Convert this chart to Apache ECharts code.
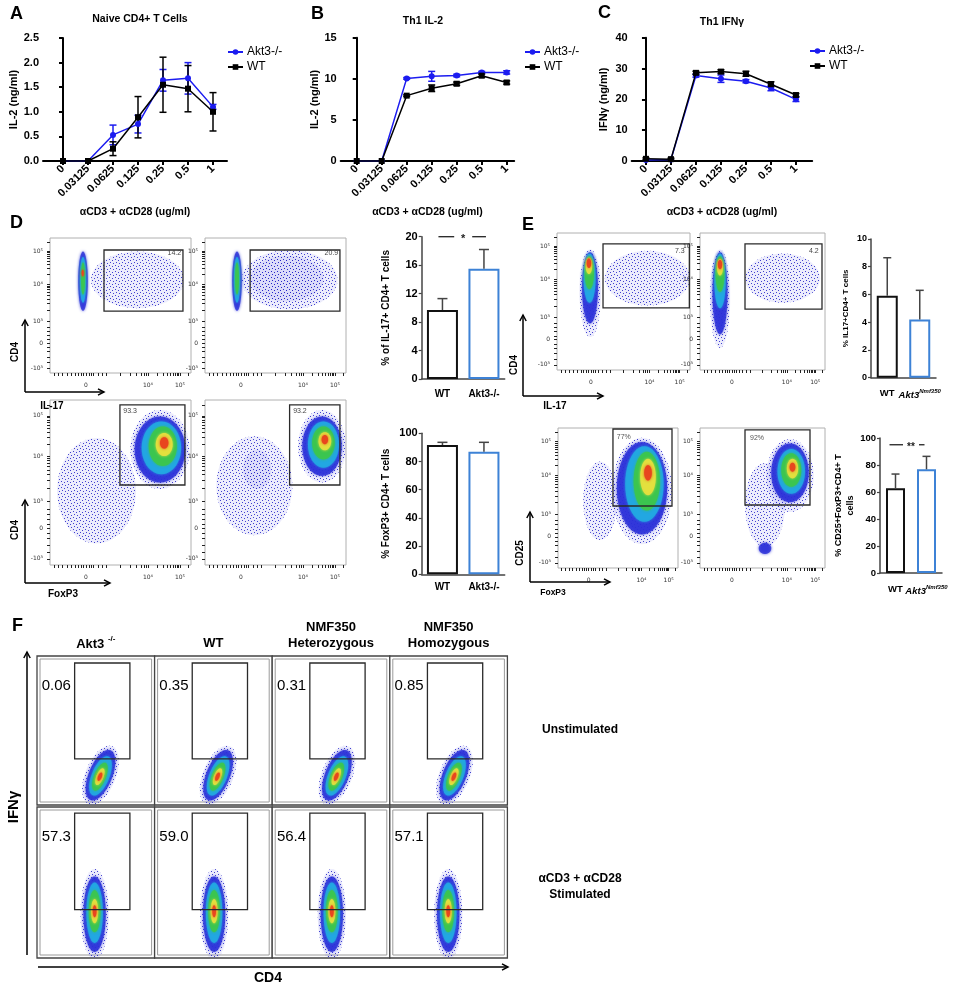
<!DOCTYPE html>
<html><head><meta charset="utf-8">
<script src="https://cdn.jsdelivr.net/npm/echarts@6/dist/echarts.min.js"></script>
<style>html,body{margin:0;padding:0;background:#fff}#c{width:961px;height:986px}</style>
</head><body><div id="c"></div><script>
const FONT = "'Liberation Sans', Arial, Helvetica, sans-serif";
const BLUE = '#1c1cf0';
const BAR_BORDERS = ['#111111', '#3d82d6'];

// ---------- Panels A-C : cytokine dose response ----------
const doseLabels = ['0', '0.03125', '0.0625', '0.125', '0.25', '0.5', '1'];
const doseIdx = [0, 1, 2, 3, 4, 5, 6];
const naiveAkt3 = [0, 0, 0.53, 0.75, 1.64, 1.68, 1.10];
const naiveAkt3Err = [0, 0, 0.20, 0.18, 0.22, 0.32, 0.05];
const naiveWT = [0, 0, 0.25, 0.89, 1.55, 1.47, 1.00];
const naiveWTErr = [0, 0, 0.14, 0.42, 0.56, 0.47, 0.39];
const th1Il2Akt3 = [0, 0, 10.05, 10.3, 10.4, 10.78, 10.78];
const th1Il2Akt3Err = [0, 0, 0.1, 0.6, 0.15, 0.12, 0.2];
const th1Il2WT = [0, 0, 7.95, 8.85, 9.4, 10.38, 9.55];
const th1Il2WTErr = [0, 0, 0.1, 0.4, 0.2, 0.2, 0.2];
const th1IfngAkt3 = [0.3, 0.5, 27.7, 26.7, 25.9, 23.7, 20.0];
const th1IfngAkt3Err = [0, 0, 0.5, 1.2, 0.5, 0.9, 0.7];
const th1IfngWT = [0.7, 0.6, 28.6, 29.0, 28.3, 24.9, 21.4];
const th1IfngWTErr = [0.3, 0.3, 0.5, 0.6, 0.8, 0.8, 0.5];

// ---------- bar summaries ----------
const dCats = ['WT', 'Akt3-/-'];
const il17Pct = [9.7, 15.5];
const il17Err = [1.6, 2.7];
const foxp3Pct = [91.7, 87.0];
const foxp3Err = [1.9, 6.6];
const eCats = ['WT', 'Akt3Nmf350'];
const eIl17Pct = [5.9, 4.2];
const eIl17Err = [2.75, 2.1];
const eTregPct = [62.7, 76.8];
const eTregErr = [10.6, 9.6];

// ---------- flow plots (display units 0-100) ----------
const flowYLabelPos = [3.7, 22.2, 38.5, 65.9, 90.4];
const flowYLabels = ['-10³', '0', '10³', '10⁴', '10⁵'];
const flowYTicks = [3.7, 8, 12, 16, 19, 22.2, 25, 28, 31, 34, 38.5, 46.7, 51.6, 55, 57.7, 59.9, 61.7, 63.3, 64.6, 65.9, 73.3, 77.6, 80.6, 83, 84.9, 86.6, 88, 89.3, 90.4, 97];
const flowXLabelPos = [25.5, 69.5, 92.2];
const flowXLabels = ['0', '10⁴', '10⁵'];
const flowXTicks = [3, 6, 9, 12, 15, 18, 20, 22, 23.5, 25.5, 27.5, 29, 31, 34, 37, 40, 50, 57, 61.5, 64.6, 66.5, 68.1, 69.5, 76.3, 80.3, 83.2, 85.4, 87.2, 88.7, 90, 91.1, 92.2, 98];
// blob: [cx, cy, rx, ry, densityLevel, tiltDeg]
const dTopWTCloud = [[62, 69, 33, 21, 0, 0], [23.4, 68, 3.4, 22, 1, 0], [23.4, 69, 2.2, 17, 2, 0], [23.4, 70, 1.4, 12, 3, 0], [23.2, 74, 0.8, 2.5, 5, 0]];
const dTopWTGate = [38.3, 45.9, 94.3, 91.1, 93, 88.5, '14.2', 'right'];
const dTopAkt3Cloud = [[60, 69, 34, 22, 0, 0], [58, 70, 26, 17, 0, 0], [22.7, 68, 3.4, 22, 1, 0], [22.7, 69, 2.2, 17, 2, 0], [22.7, 70, 1.4, 12, 3, 0]];
const dTopAkt3Gate = [32, 45.9, 95.7, 91.1, 94.5, 88.5, '20.9', 'right'];
const dFoxWTCloud = [[33, 45, 28, 32, 0, 0], [78, 70, 21, 24, 0, 0], [78, 70, 18, 20, 1, 0], [79, 71, 14, 16, 2, 0], [80, 72, 10, 12, 3, 0], [81, 73, 6, 7, 4, 0], [81, 74, 3, 3.5, 5, 0]];
const dFoxWTGate = [49.6, 48.5, 95.7, 97, 52, 93.5, '93.3', 'left'];
const dFoxAkt3Cloud = [[35, 48, 27, 30, 0, 0], [37, 58, 10, 12, 0, 0], [83, 72, 17, 22, 0, 0], [83, 72, 14, 18, 1, 0], [84, 73, 11, 14, 2, 0], [84, 74, 8, 10, 3, 0], [85, 75, 4.5, 5.5, 4, 0], [85, 76, 2.3, 2.8, 5, 0]];
const dFoxAkt3Gate = [60, 48.5, 95.7, 97, 62.5, 93.5, '93.2', 'left'];
const eIl17WTCloud = [[68, 67, 32, 20, 0, 0], [25, 56, 8, 32, 0, 0], [24.8, 60, 6, 26, 1, 0], [24.5, 67, 4.5, 18, 2, 0], [24.3, 71, 3.5, 12, 3, 0], [24, 76, 2.4, 6, 4, 0], [24, 78, 1.7, 3.5, 5, 0]];
const eIl17WTGate = [34.6, 45.3, 99.5, 92, 96, 86.5, '7.3', 'right'];
const eIl17MutCloud = [[66, 67, 30, 18, 0, 0], [16, 52, 8, 36, 0, 0], [16, 56, 6, 30, 1, 0], [16, 65, 4.5, 20, 2, 0], [16, 70, 3.5, 13, 3, 0], [16, 75, 2.4, 6, 4, 0], [16, 77, 1.7, 3.5, 5, 0]];
const eIl17MutGate = [36, 44.5, 97.6, 92, 95, 86.5, '4.2', 'right'];
const eTregWTCloud = [[35, 48, 14, 28, 0, 0], [70, 55, 25, 38, 0, 0], [70, 57, 21, 33, 1, 0], [72, 60, 16, 27, 2, 0], [74, 62, 11, 21, 3, 0], [75, 65, 6.5, 13, 4, 0], [75, 68, 3.2, 5.5, 5, 0]];
const eTregWTGate = [45.8, 44.3, 95, 99.3, 49, 93.5, '77%', 'left'];
const eTregMutCloud = [[52, 45, 16, 30, 0, 0], [52, 14, 5, 4, 1, 0], [72, 66, 19, 26, 0, 0], [72, 68, 15, 21, 1, 0], [73, 69, 11, 16, 2, 0], [73, 70, 8, 12, 3, 0], [74, 71, 4.5, 7, 4, 0], [74, 72, 2.3, 3.2, 5, 0]];
const eTregMutGate = [36, 45, 88, 98.6, 40, 93, '92%', 'left'];

// ---------- Panel F ----------
const fColumns = ['Akt3', 'WT', 'NMF350\nHeterozygous', 'NMF350\nHomozygous'];
const fUnstimPct = ['0.06', '0.35', '0.31', '0.85'];
const fStimPct = ['57.3', '59.0', '56.4', '57.1'];
const fUnstimCloudX = [54, 54, 55, 55];
const fStimCloudX = [49, 50.6, 50.7, 49.7];
const fUnstimCloudY = 20;
const fStimCloudY = 29;
// relative blob shape [dx, dy, rx, ry, level]
const fUnstimShape = [[0, 0, 13, 21, 0], [0, 0, 10, 18, 1], [0, -0.5, 7.5, 14, 2], [-0.5, -1, 5, 10, 3], [-0.5, -1, 3, 6, 4], [-0.5, -1, 1.6, 3, 5]];
const fStimShape = [[0, 0, 12, 30, 0], [0, 0, 9.5, 25, 1], [0, 1, 7, 20, 2], [0, 2, 5, 14, 3], [0, 2, 3, 8, 4], [0, 2, 1.6, 4, 5]];
const fUnstimTilt = 22;
const fUnstimGate = [32, 31, 79, 95.3];
const fStimGate = [32, 32, 79, 96];
const fLabelAt = [4, 80];

// ------------------------------------------------------------
const grids = [], xAxes = [], yAxes = [], series = [], graphics = [], legends = [];
const LEVEL_COLORS = [null, '#2b2fd8', '#22a9e2', '#3cc64e', '#e4df3e', '#e8461e'];
const LEVEL_OPAC = [1, 0.8, 0.9, 0.92, 0.95, 1];

function dotPattern() {
  const cv = document.createElement('canvas'); cv.width = 6; cv.height = 6;
  const g = cv.getContext('2d'); g.fillStyle = 'rgba(35,35,200,0.85)';
  [[1, 1], [4, 2], [2, 4], [5, 5]].forEach(p => g.fillRect(p[0], p[1], 1, 1));
  return cv;
}
const PATTERN = dotPattern();

function ellipsePts(cx, cy, rx, ry, rot) {
  const pts = [], n = 44;
  for (let k = 0; k < n; k++) {
    const t = k / n * 2 * Math.PI, x = rx * Math.cos(t), y = ry * Math.sin(t);
    pts.push([cx + x * Math.cos(rot) - y * Math.sin(rot), cy + x * Math.sin(rot) + y * Math.cos(rot)]);
  }
  return pts;
}

function errBars(ai, xs, means, errs, color, cap, both) {
  return {
    type: 'custom', xAxisIndex: ai, yAxisIndex: ai, silent: true, z: 3,
    data: means.map((m, i) => [xs[i], both ? m - errs[i] : m, m + errs[i]]),
    renderItem(p, api) {
      if (!errs[p.dataIndex]) return null;
      const x = api.value(0);
      const lo = api.coord([x, api.value(1)]), hi = api.coord([x, api.value(2)]);
      const st = { stroke: color, lineWidth: 1.5 };
      const ch = [
        { type: 'line', shape: { x1: lo[0], y1: lo[1], x2: hi[0], y2: hi[1] }, style: st },
        { type: 'line', shape: { x1: hi[0] - cap, y1: hi[1], x2: hi[0] + cap, y2: hi[1] }, style: st }];
      if (both) ch.push({ type: 'line', shape: { x1: lo[0] - cap, y1: lo[1], x2: lo[0] + cap, y2: lo[1] }, style: st });
      return { type: 'group', children: ch };
    }
  };
}

function lineChart(c) {
  const gi = grids.length;
  grids.push({ left: c.left, top: c.top, width: c.width, height: c.height });
  xAxes.push({
    gridIndex: gi, type: 'value', min: c.xmin, max: c.xmax, splitLine: { show: false },
    axisLine: { show: true, onZero: false, lineStyle: { color: '#000', width: 2 } },
    axisTick: { show: true, customValues: doseIdx, length: 4, lineStyle: { color: '#000', width: 2 } },
    axisLabel: { customValues: doseIdx, formatter: v => doseLabels[Math.round(v)], rotate: 45, fontSize: 11, fontWeight: 'bold', color: '#000', fontFamily: FONT, margin: 6 },
    name: 'αCD3 + αCD28 (ug/ml)', nameLocation: 'middle', nameGap: 46,
    nameTextStyle: { fontSize: 10.5, fontWeight: 'bold', color: '#000', fontFamily: FONT }
  });
  yAxes.push({
    gridIndex: gi, type: 'value', min: 0, max: c.ymax, interval: c.yint, splitLine: { show: false },
    axisLine: { show: true, lineStyle: { color: '#000', width: 2 } },
    axisTick: { show: true, length: 4, lineStyle: { color: '#000', width: 2 } },
    axisLabel: { formatter: c.fmt, fontSize: 11, fontWeight: 'bold', color: '#000', fontFamily: FONT, margin: 4 },
    name: c.yname, nameLocation: 'middle', nameGap: c.nameGap,
    nameTextStyle: { fontSize: 11, fontWeight: 'bold', color: '#000', fontFamily: FONT }
  });
  const ai = xAxes.length - 1;
  series.push(errBars(ai, doseIdx, c.akt, c.aktErr, BLUE, 3.5, true));
  series.push(errBars(ai, doseIdx, c.wt, c.wtErr, '#000', 3.5, true));
  series.push({ type: 'line', name: 'Akt3-/-', xAxisIndex: ai, yAxisIndex: ai, data: c.akt.map((v, i) => [doseIdx[i], v]), symbol: 'circle', symbolSize: 6, color: BLUE, lineStyle: { width: 1.5, color: BLUE }, itemStyle: { color: BLUE }, z: 4, silent: true });
  series.push({ type: 'line', name: 'WT', xAxisIndex: ai, yAxisIndex: ai, data: c.wt.map((v, i) => [doseIdx[i], v]), symbol: 'rect', symbolSize: 6, color: '#000', lineStyle: { width: 1.5, color: '#000' }, itemStyle: { color: '#000' }, z: 5, silent: true });
  legends.push({ left: c.legLeft, top: c.legTop, orient: 'vertical', itemGap: 3, itemWidth: 15, itemHeight: 7, selectedMode: false, data: ['Akt3-/-', 'WT'], textStyle: { fontSize: 12, color: '#000', fontFamily: FONT, padding: [0, 0, 0, -1] } });
  text(c.titleX, c.titleY, c.title, 10.5, 'bold');
}

function sigSeries(ai, yv, txt, size, gap, lpad, rpad) {
  return {
    type: 'custom', xAxisIndex: ai, yAxisIndex: ai, silent: true, z: 5, data: [[0, 1, yv]],
    renderItem(p, api) {
      const a = api.coord([0, yv]), b = api.coord([1, yv]); const m = (a[0] + b[0]) / 2;
      const st = { stroke: '#222', lineWidth: 1.3 };
      return { type: 'group', children: [
        { type: 'line', shape: { x1: a[0] - lpad, y1: a[1], x2: m - gap, y2: a[1] }, style: st },
        { type: 'line', shape: { x1: m + gap, y1: a[1], x2: b[0] + rpad, y2: a[1] }, style: st },
        { type: 'text', x: m, y: a[1] + 2, style: { text: txt, fontSize: size, fontWeight: 'bold', fill: '#222', align: 'center', verticalAlign: 'middle', fontFamily: FONT } }] };
    }
  };
}

function barChart(c) {
  const gi = grids.length;
  grids.push({ left: c.left, top: c.top, width: c.width, height: c.height });
  xAxes.push({
    gridIndex: gi, type: 'category', data: c.cats,
    axisLine: { show: true, lineStyle: { color: '#444', width: 1.5 } }, axisTick: { show: false },
    axisLabel: { interval: 0, fontSize: c.catSize, fontWeight: 'bold', color: '#000', fontFamily: FONT, margin: c.catMargin, formatter: c.catFmt, rich: c.catRich }
  });
  yAxes.push({
    gridIndex: gi, type: 'value', min: 0, max: c.ymax, interval: c.yint, splitLine: { show: false },
    axisLine: { show: true, lineStyle: { color: '#444', width: 1.5 } },
    axisTick: { show: true, length: 3, lineStyle: { color: '#444', width: 1.2 } },
    axisLabel: { fontSize: c.tickSize, fontWeight: 'bold', color: '#000', fontFamily: FONT, margin: 4 },
    name: c.yname, nameLocation: 'middle', nameGap: c.nameGap,
    nameTextStyle: { fontSize: c.nameSize, fontWeight: 'bold', color: '#000', fontFamily: FONT, lineHeight: c.nameSize + 3 }
  });
  const ai = xAxes.length - 1;
  series.push({ type: 'bar', xAxisIndex: ai, yAxisIndex: ai, barWidth: c.barWidth, silent: true, data: c.vals.map((v, i) => ({ value: v, itemStyle: { color: '#fff', borderColor: BAR_BORDERS[i], borderWidth: 2 } })) });
  series.push(errBars(ai, c.vals.map((v, i) => i), c.vals, c.errs, '#444', c.cap, false));
  if (c.sig) series.push(sigSeries(ai, c.sig, c.sigText, c.sigSize, c.sigGap, c.sigL, c.sigR));
}

function nearest(pos, labels) {
  return v => { let k = 0, b = 1e9; pos.forEach((p, i) => { const d = Math.abs(p - v); if (d < b) { b = d; k = i; } }); return b < 0.5 ? labels[k] : ''; };
}

function cloudSeries(ai, blobs) {
  return {
    type: 'custom', xAxisIndex: ai, yAxisIndex: ai, silent: true, z: 2, clip: true, data: blobs.map(b => [b[0], b[1]]),
    renderItem(p, api) {
      const b = blobs[p.dataIndex];
      const c = api.coord([b[0], b[1]]);
      const s = api.size([b[2], b[3]]);
      const pts = ellipsePts(c[0], c[1], s[0], s[1], (b[5] || 0) * Math.PI / 180);
      if (b[4] === 0) {
        return { type: 'group', children: [
          { type: 'polygon', shape: { points: pts }, style: { fill: 'rgba(70,70,225,0.10)' } },
          { type: 'polygon', shape: { points: pts }, style: { fill: { image: PATTERN, repeat: 'repeat' } } }] };
      }
      return { type: 'polygon', shape: { points: pts }, style: { fill: LEVEL_COLORS[b[4]], opacity: LEVEL_OPAC[b[4]], shadowBlur: 3, shadowColor: LEVEL_COLORS[b[4]] } };
    }
  };
}

function gateSeries(ai, gate, fontSize, color) {
  return {
    type: 'custom', xAxisIndex: ai, yAxisIndex: ai, silent: true, z: 6, data: [[gate[0], gate[1]]],
    renderItem(p, api) {
      const a = api.coord([gate[0], gate[1]]), b = api.coord([gate[2], gate[3]]), l = api.coord([gate[4], gate[5]]);
      return { type: 'group', children: [
        { type: 'rect', shape: { x: Math.min(a[0], b[0]), y: Math.min(a[1], b[1]), width: Math.abs(b[0] - a[0]), height: Math.abs(b[1] - a[1]) }, style: { fill: 'none', stroke: '#2a2a2a', lineWidth: 1.3 } },
        { type: 'text', x: l[0], y: l[1], style: { text: gate[6], fontSize: fontSize, fill: color, align: gate[7], verticalAlign: 'middle', fontFamily: FONT } }] };
    }
  };
}

function frameSeries(ai) {
  return {
    type: 'custom', xAxisIndex: ai, yAxisIndex: ai, silent: true, z: 1, data: [[0, 0]],
    renderItem(p, api) {
      const a = api.coord([0, 100]), b = api.coord([100, 0]);
      return { type: 'rect', shape: { x: a[0] + 3, y: a[1] + 3, width: b[0] - a[0] - 6, height: b[1] - a[1] - 6 }, style: { fill: 'none', stroke: '#9a9a9a', lineWidth: 1 } };
    }
  };
}

function flowPlot(c) {
  const gi = grids.length;
  grids.push({ left: c.left, top: c.top, width: c.width, height: c.height, show: true, borderColor: c.axes ? '#b0b0b0' : '#444', borderWidth: c.axes ? 1 : 1.3, backgroundColor: '#fff' });
  if (c.axes) {
    xAxes.push({ gridIndex: gi, type: 'value', min: 0, max: 100, offset: 4, splitLine: { show: false },
      axisLine: { show: false }, axisTick: { show: true, customValues: flowXTicks, length: 3, lineStyle: { color: '#222', width: 1 } },
      axisLabel: { show: true, customValues: flowXLabelPos, formatter: nearest(flowXLabelPos, flowXLabels), fontSize: 6, color: '#333', fontFamily: 'DejaVu Sans', margin: 5 } });
    yAxes.push({ gridIndex: gi, type: 'value', min: 0, max: 100, offset: 3, splitLine: { show: false },
      axisLine: { show: false }, axisTick: { show: true, customValues: flowYTicks, length: 3, lineStyle: { color: '#222', width: 1 } },
      axisLabel: { show: true, customValues: flowYLabelPos, formatter: nearest(flowYLabelPos, flowYLabels), fontSize: 6, color: '#333', fontFamily: 'DejaVu Sans', margin: 4 } });
  } else {
    xAxes.push({ gridIndex: gi, type: 'value', min: 0, max: 100, show: false });
    yAxes.push({ gridIndex: gi, type: 'value', min: 0, max: 100, show: false });
  }
  const ai = xAxes.length - 1;
  if (!c.axes) series.push(frameSeries(ai));
  series.push(cloudSeries(ai, c.cloud));
  series.push(gateSeries(ai, c.gate, c.gateFont, c.gateColor));
}

function text(x, y, t, size, weight, opt) {
  opt = opt || {};
  graphics.push({ type: 'text', x, y, rotation: opt.rot || 0, z: 10, style: Object.assign({ text: t, fontSize: size, fontWeight: weight || 'normal', fontFamily: FONT, fill: '#000', align: opt.align || 'center', verticalAlign: 'middle', lineHeight: size + 3 }, opt.style || {}) });
}
function arrow(x1, y1, x2, y2) {
  const a = Math.atan2(y2 - y1, x2 - x1), L = 6, W = 3.2;
  const p1 = [x2 - L * Math.cos(a) + W * Math.sin(a), y2 - L * Math.sin(a) - W * Math.cos(a)];
  const p2 = [x2 - L * Math.cos(a) - W * Math.sin(a), y2 - L * Math.sin(a) + W * Math.cos(a)];
  graphics.push({ type: 'line', z: 10, shape: { x1, y1, x2, y2 }, style: { stroke: '#000', lineWidth: 1.5 } });
  graphics.push({ type: 'polyline', z: 10, shape: { points: [p1, [x2, y2], p2] }, style: { stroke: '#000', lineWidth: 1.5, fill: 'none' } });
}

// ----- A, B, C -----
lineChart({ left: 43, top: 38, width: 184, height: 123, xmin: -0.8, xmax: 6.56, ymax: 2.5, yint: 0.5, fmt: v => v.toFixed(1), yname: 'IL-2 (ng/ml)', nameGap: 22, akt: naiveAkt3, aktErr: naiveAkt3Err, wt: naiveWT, wtErr: naiveWTErr, legLeft: 222, legTop: 41, title: 'Naive CD4+ T Cells', titleX: 140, titleY: 19 });
lineChart({ left: 340.7, top: 37.7, width: 173.5, height: 123.3, xmin: -0.64, xmax: 6.3, ymax: 15, yint: 5, fmt: v => String(v), yname: 'IL-2 (ng/ml)', nameGap: 20, akt: th1Il2Akt3, aktErr: th1Il2Akt3Err, wt: th1Il2WT, wtErr: th1Il2WTErr, legLeft: 519, legTop: 41, title: 'Th1 IL-2', titleX: 423, titleY: 21 });
lineChart({ left: 631.7, top: 37.7, width: 180.5, height: 123.3, xmin: -0.57, xmax: 6.65, ymax: 40, yint: 10, fmt: v => String(v), yname: 'IFNγ (ng/ml)', nameGap: 22, akt: th1IfngAkt3, aktErr: th1IfngAkt3Err, wt: th1IfngWT, wtErr: th1IfngWTErr, legLeft: 804, legTop: 40, title: 'Th1 IFNγ', titleX: 722, titleY: 22 });

// ----- bar summaries -----
const eRich = { a: { fontSize: 9.5, fontWeight: 'bold', fontStyle: 'italic', fontFamily: FONT, color: '#000', lineHeight: 12, verticalAlign: 'bottom' }, s: { fontSize: 6, fontWeight: 'bold', fontStyle: 'italic', fontFamily: FONT, color: '#000', lineHeight: 12, verticalAlign: 'top' } };
const eFmt = v => v === 'WT' ? 'WT' : '{a|Akt3}{s|Nmf350}';
barChart({ left: 421.7, top: 236.7, width: 83, height: 142.3, cats: dCats, vals: il17Pct, errs: il17Err, ymax: 20, yint: 4, yname: '% of IL-17+ CD4+ T cells', nameGap: 29, nameSize: 10, tickSize: 11, catSize: 10, catMargin: 10, barWidth: 31, cap: 5, sig: 20, sigText: '*', sigSize: 11, sigGap: 9, sigL: 4, sigR: 2 });
barChart({ left: 421.7, top: 433.3, width: 83, height: 141, cats: dCats, vals: foxp3Pct, errs: foxp3Err, ymax: 100, yint: 20, yname: '% FoxP3+ CD4+ T cells', nameGap: 29, nameSize: 10, tickSize: 11, catSize: 10, catMargin: 8, barWidth: 31, cap: 5 });
barChart({ left: 871, top: 239, width: 65, height: 138.7, cats: eCats, vals: eIl17Pct, errs: eIl17Err, ymax: 10, yint: 2, yname: '% IL17+CD4+ T cells', nameGap: 20, nameSize: 8, tickSize: 9, catSize: 9.5, catMargin: 11, catFmt: eFmt, catRich: eRich, barWidth: 21, cap: 4 });
barChart({ left: 880, top: 438, width: 62, height: 135, cats: eCats, vals: eTregPct, errs: eTregErr, ymax: 100, yint: 20, yname: '% CD25+FoxP3+CD4+ T\ncells', nameGap: 20, nameSize: 9, tickSize: 9.5, catSize: 9.5, catMargin: 11, catFmt: eFmt, catRich: eRich, barWidth: 19, cap: 4, sig: 95, sigText: '**', sigSize: 10, sigGap: 8, sigL: 6, sigR: -2 });

// ----- D / E flow plots -----
flowPlot({ left: 50, top: 238, width: 141, height: 135, axes: true, cloud: dTopWTCloud, gate: dTopWTGate, gateFont: 7, gateColor: '#444' });
flowPlot({ left: 205, top: 238, width: 141, height: 135, axes: true, cloud: dTopAkt3Cloud, gate: dTopAkt3Gate, gateFont: 7, gateColor: '#444' });
flowPlot({ left: 50, top: 400, width: 141, height: 165, axes: true, cloud: dFoxWTCloud, gate: dFoxWTGate, gateFont: 7, gateColor: '#444' });
flowPlot({ left: 205, top: 400, width: 141, height: 165, axes: true, cloud: dFoxAkt3Cloud, gate: dFoxAkt3Gate, gateFont: 7, gateColor: '#444' });
flowPlot({ left: 557, top: 233, width: 133, height: 137, axes: true, cloud: eIl17WTCloud, gate: eIl17WTGate, gateFont: 7, gateColor: '#444' });
flowPlot({ left: 700, top: 233, width: 125, height: 137, axes: true, cloud: eIl17MutCloud, gate: eIl17MutGate, gateFont: 7, gateColor: '#444' });
flowPlot({ left: 558, top: 428, width: 120, height: 140, axes: true, cloud: eTregWTCloud, gate: eTregWTGate, gateFont: 7, gateColor: '#555' });
flowPlot({ left: 700, top: 428, width: 125, height: 140, axes: true, cloud: eTregMutCloud, gate: eTregMutGate, gateFont: 7, gateColor: '#555' });

// ----- F cells -----
for (let i = 0; i < 4; i++) {
  const left = 37 + i * 117.6;
  const c1 = fUnstimShape.map(s => [fUnstimCloudX[i] + s[0], fUnstimCloudY + s[1], s[2], s[3], s[4], fUnstimTilt]);
  const c2 = fStimShape.map(s => [fStimCloudX[i] + s[0], fStimCloudY + s[1], s[2], s[3], s[4], 0]);
  flowPlot({ left, top: 656, width: 117.6, height: 149, axes: false, cloud: c1, gate: fUnstimGate.concat([fLabelAt[0], fLabelAt[1], fUnstimPct[i], 'left']), gateFont: 15, gateColor: '#000' });
  flowPlot({ left, top: 807, width: 117.6, height: 151, axes: false, cloud: c2, gate: fStimGate.concat([fLabelAt[0], fLabelAt[1], fStimPct[i], 'left']), gateFont: 15, gateColor: '#000' });
}

// ----- texts & arrows -----
[['A', 10, 14], ['B', 311, 14], ['C', 598, 13], ['D', 10, 223], ['E', 522, 225], ['F', 12, 626]].forEach(l => text(l[1], l[2], l[0], 18, 'bold', { align: 'left' }));
arrow(25, 392, 25, 320); arrow(25, 392, 104, 392);
text(15, 352, 'CD4', 10, 'bold', { rot: Math.PI / 2 }); text(52, 406, 'IL-17', 10, 'bold');
arrow(25, 583, 25, 500); arrow(25, 583, 110, 583);
text(15, 530, 'CD4', 10, 'bold', { rot: Math.PI / 2 }); text(63, 594, 'FoxP3', 10, 'bold');
arrow(523, 396, 523, 315); arrow(523, 396, 603, 396);
text(514, 365, 'CD4', 10, 'bold', { rot: Math.PI / 2 }); text(555, 406, 'IL-17', 10, 'bold');
arrow(530, 582, 530, 512); arrow(530, 582, 610, 582);
text(520, 553, 'CD25', 10, 'bold', { rot: Math.PI / 2 }); text(553, 593, 'FoxP3', 8.5, 'bold');
const colCenters = [0, 1, 2, 3].map(i => 37 + i * 117.6 + 58.8);
graphics.push({ type: 'text', x: colCenters[0], y: 643, z: 10, style: { text: '{a|Akt3 }{s|-/-}', align: 'center', verticalAlign: 'middle', rich: { a: { fontSize: 13, fontWeight: 'bold', fontFamily: FONT, fill: '#000', lineHeight: 16, verticalAlign: 'bottom' }, s: { fontSize: 8, fontWeight: 'bold', fontFamily: FONT, fill: '#000', lineHeight: 16, verticalAlign: 'top' } } } });
fColumns.slice(1).forEach((t, k) => { const lines = t.split('\n'); if (lines.length === 1) text(colCenters[k + 1], 643, t, 13, 'bold'); else { text(colCenters[k + 1], 627, lines[0], 13, 'bold'); text(colCenters[k + 1], 643, lines[1], 13, 'bold'); } });
text(580, 730, 'Unstimulated', 12, 'bold');
text(580, 879, 'αCD3 + αCD28', 12, 'bold');
text(580, 895, 'Stimulated', 12, 'bold');
arrow(27, 955, 27, 652); arrow(38, 967, 508, 967);
text(14, 807, 'IFNγ', 15, 'bold', { rot: Math.PI / 2 });
text(268, 978, 'CD4', 14, 'bold');

const chart = echarts.init(document.getElementById('c'), null, { renderer: 'canvas' });
chart.setOption({ animation: false, backgroundColor: '#fff', textStyle: { fontFamily: FONT }, grid: grids, xAxis: xAxes, yAxis: yAxes, legend: legends, series: series, graphic: { elements: graphics } });
</script></body></html>
